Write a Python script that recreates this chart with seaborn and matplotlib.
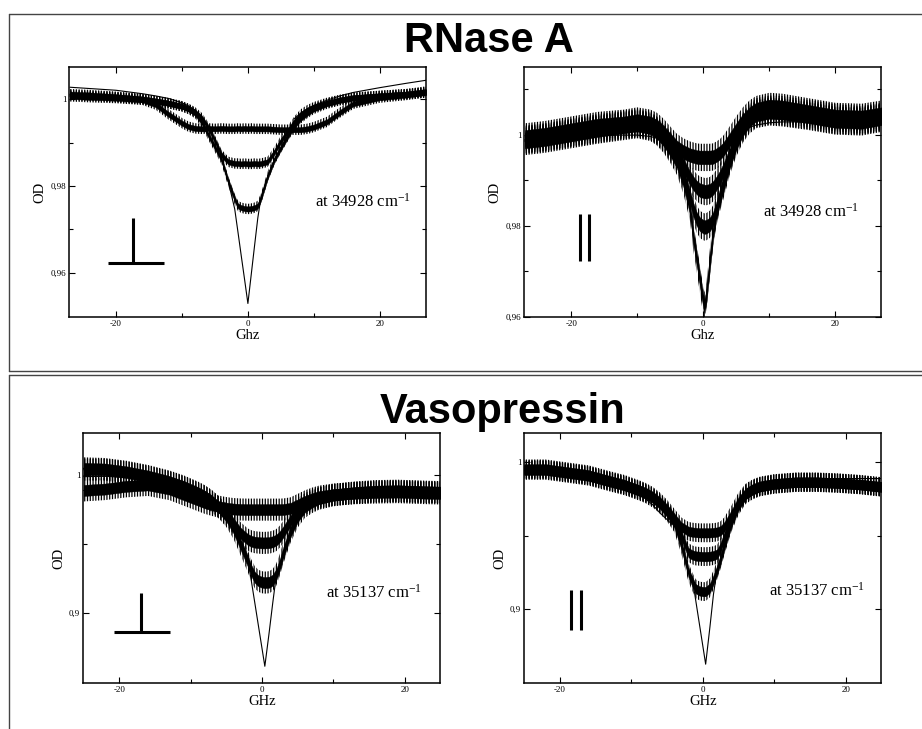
import matplotlib
matplotlib.use("Agg")
import numpy as np
import pandas as pd
import matplotlib.pyplot as plt
from matplotlib.lines import Line2D
from matplotlib.ticker import FixedLocator, FuncFormatter
import seaborn as sns

# ---------------------------------------------------------------- data
# RNase A, perpendicular polarisation (OD vs detuning in GHz)
TL_GHZ = [-27, -24, -20, -16, -14, -12, -10, -9, -8, -7, -6, -5, -4, -3, -2, -1.5, -1,
          -0.5, 0, 0.5, 1, 1.5, 2, 3, 4, 5, 6, 7, 8, 9, 10, 12, 14, 16, 20, 24, 27]
TL_OD_A = [1.0007, 1.0005, 1.0003, 0.9999, 0.9988, 0.9965, 0.9945, 0.9937, 0.9933, 0.9932,
           0.9933, 0.9932, 0.9933, 0.9932, 0.9932, 0.9933, 0.9932, 0.9933, 0.9932, 0.9933,
           0.9932, 0.9932, 0.9932, 0.9932, 0.9931, 0.9930, 0.9930, 0.9930, 0.9930, 0.9932,
           0.9936, 0.9948, 0.9970, 0.9990, 1.0004, 1.0010, 1.0016]
TL_OD_B = [1.0012, 1.0010, 1.0006, 1.0001, 0.9996, 0.9991, 0.9984, 0.9978, 0.9970, 0.9957,
           0.9935, 0.9905, 0.9872, 0.9856, 0.9852, 0.9852, 0.9851, 0.9852, 0.9851, 0.9851,
           0.9852, 0.9851, 0.9852, 0.9856, 0.9878, 0.9904, 0.9925, 0.9948, 0.9965, 0.9975,
           0.9982, 0.9992, 0.9999, 1.0004, 1.0008, 1.0012, 1.0018]
TL_OD_C = [1.0010, 1.0008, 1.0005, 1.0000, 0.9996, 0.9991, 0.9984, 0.9978, 0.9968, 0.9948,
           0.9918, 0.9890, 0.9862, 0.9812, 0.9770, 0.9754, 0.9750, 0.9748, 0.9747, 0.9748,
           0.9750, 0.9754, 0.9772, 0.9822, 0.9860, 0.9888, 0.9914, 0.9938, 0.9956, 0.9968,
           0.9978, 0.9990, 0.9998, 1.0003, 1.0008, 1.0012, 1.0016]
TL_OD_D = [1.0010, 1.0008, 1.0005, 1.0000, 0.9996, 0.9991, 0.9984, 0.9978, 0.9968, 0.9948,
           0.9918, 0.9890, 0.9862, 0.9812, 0.9747, 0.9693, 0.9638, 0.9584, 0.9529, 0.9595,
           0.9661, 0.9726, 0.9775, 0.9822, 0.9860, 0.9888, 0.9914, 0.9938, 0.9956, 0.9968,
           0.9978, 0.9990, 0.9998, 1.0003, 1.0008, 1.0012, 1.0016]
TL_FIT_L_GHZ = [-27, -24, -20, -16, -14, -12, -10, -9, -8, -7, -6.5]
TL_FIT_L_OD = [1.0028, 1.0025, 1.0021, 1.0013, 1.0008, 1.0002, 0.9992, 0.9985, 0.9975, 0.9960, 0.9945]
TL_FIT_R_GHZ = [7, 8, 9, 10, 12, 14, 16, 20, 24, 27]
TL_FIT_R_OD = [0.9955, 0.9968, 0.9978, 0.9986, 0.9998, 1.0008, 1.0016, 1.0027, 1.0037, 1.0044]
TL_NOISE = 0.0006

# RNase A, parallel polarisation
TR_GHZ = [-27, -24, -20, -16, -12, -10, -8, -7, -6, -5, -4, -3, -2, -1.5, -1, -0.5, 0, 0.2,
          0.5, 1, 1.5, 2, 2.5, 3, 4, 5, 6, 7, 8, 10, 12, 16, 20, 24, 27]
TR_OD_A = [0.9995, 1.0000, 1.0010, 1.0020, 1.0025, 1.0030, 1.0025, 1.0018, 1.0005, 0.9988,
           0.9972, 0.9962, 0.9955, 0.9953, 0.9951, 0.9950, 0.9950, 0.9950, 0.9950, 0.9950,
           0.9951, 0.9955, 0.9960, 0.9967, 0.9988, 1.0010, 1.0030, 1.0045, 1.0055, 1.0062,
           1.0060, 1.0050, 1.0040, 1.0038, 1.0045]
TR_OD_B = [0.9990, 0.9995, 1.0005, 1.0015, 1.0022, 1.0026, 1.0020, 1.0010, 0.9995, 0.9978,
           0.9958, 0.9932, 0.9905, 0.9893, 0.9884, 0.9878, 0.9876, 0.9875, 0.9875, 0.9877,
           0.9883, 0.9893, 0.9905, 0.9920, 0.9955, 0.9990, 1.0018, 1.0038, 1.0050, 1.0056,
           1.0055, 1.0046, 1.0037, 1.0033, 1.0040]
TR_OD_C = [0.9988, 0.9993, 1.0003, 1.0012, 1.0020, 1.0024, 1.0018, 1.0008, 0.9992, 0.9972,
           0.9948, 0.9912, 0.9862, 0.9835, 0.9815, 0.9803, 0.9798, 0.9797, 0.9798, 0.9803,
           0.9815, 0.9838, 0.9865, 0.9893, 0.9945, 0.9985, 1.0015, 1.0035, 1.0046, 1.0052,
           1.0050, 1.0042, 1.0032, 1.0030, 1.0038]
TR_OD_D = [0.9985, 0.9990, 1.0000, 1.0010, 1.0018, 1.0022, 1.0016, 1.0006, 0.9990, 0.9968,
           0.9942, 0.9900, 0.9840, 0.9775, 0.9730, 0.9682, 0.9635, 0.9623, 0.9648, 0.9718,
           0.9785, 0.9830, 0.9860, 0.9885, 0.9940, 0.9982, 1.0012, 1.0032, 1.0044, 1.0050,
           1.0048, 1.0040, 1.0030, 1.0028, 1.0036]
TR_FIT_L_GHZ = [-27, -24, -20, -16, -12, -10, -8, -7, -6, -5]
TR_FIT_L_OD = [0.9988, 0.9991, 0.9995, 0.9998, 0.9999, 0.9999, 0.9996, 0.9992, 0.9985, 0.9975]
TR_FIT_R_GHZ = [5, 6, 7, 8, 10, 12, 16, 20, 24, 27]
TR_FIT_R_OD = [0.9995, 1.0008, 1.0016, 1.0021, 1.0026, 1.0028, 1.0028, 1.0026, 1.0025, 1.0026]
TR_NOISE = 0.0015

# Vasopressin, perpendicular polarisation
BL_GHZ = [-25, -22, -19, -16, -13, -11, -9, -8, -7, -6, -5, -4, -3, -2, -1.5, -1, -0.5, 0,
          0.4, 1, 1.5, 2, 2.5, 3, 4, 5, 6, 7, 8, 10, 13, 16, 19, 22, 25]
BL_OD_A = [0.9890, 0.9900, 0.9920, 0.9930, 0.9900, 0.9860, 0.9820, 0.9800, 0.9785, 0.9772,
           0.9762, 0.9755, 0.9752, 0.9751, 0.9751, 0.9751, 0.9751, 0.9751, 0.9751, 0.9751,
           0.9751, 0.9751, 0.9751, 0.9752, 0.9760, 0.9785, 0.9810, 0.9830, 0.9845, 0.9860,
           0.9870, 0.9875, 0.9878, 0.9872, 0.9868]
BL_OD_B = [1.0040, 1.0040, 1.0020, 0.9990, 0.9950, 0.9915, 0.9870, 0.9845, 0.9810, 0.9765,
           0.9715, 0.9650, 0.9580, 0.9535, 0.9522, 0.9515, 0.9512, 0.9510, 0.9510, 0.9512,
           0.9518, 0.9530, 0.9555, 0.9590, 0.9670, 0.9755, 0.9790, 0.9815, 0.9835, 0.9858,
           0.9875, 0.9885, 0.9888, 0.9882, 0.9878]
BL_OD_C = [1.0050, 1.0045, 1.0025, 0.9995, 0.9955, 0.9920, 0.9875, 0.9848, 0.9812, 0.9765,
           0.9705, 0.9620, 0.9500, 0.9380, 0.9310, 0.9260, 0.9235, 0.9225, 0.9222, 0.9225,
           0.9240, 0.9280, 0.9350, 0.9440, 0.9590, 0.9700, 0.9770, 0.9805, 0.9830, 0.9855,
           0.9872, 0.9882, 0.9885, 0.9880, 0.9875]
BL_OD_D = [1.0050, 1.0045, 1.0025, 0.9995, 0.9955, 0.9920, 0.9875, 0.9848, 0.9812, 0.9765,
           0.9705, 0.9620, 0.9500, 0.9400, 0.9237, 0.9074, 0.8910, 0.8747, 0.8616, 0.8858,
           0.9071, 0.9272, 0.9350, 0.9440, 0.9590, 0.9700, 0.9770, 0.9805, 0.9830, 0.9855,
           0.9872, 0.9882, 0.9885, 0.9880, 0.9875]
BL_FIT_L_GHZ = [-25, -22, -19, -16]
BL_FIT_L_OD = [0.9990, 0.9992, 0.9985, 0.9968]
BL_FIT_R_GHZ = [8, 10, 13, 16, 19, 22, 25]
BL_FIT_R_OD = [0.9840, 0.9855, 0.9866, 0.9870, 0.9872, 0.9872, 0.9870]
BL_NOISE = 0.0040

# Vasopressin, parallel polarisation
BR_GHZ = [-25, -22, -19, -16, -13, -11, -9, -8, -7, -6, -5, -4, -3, -2, -1.5, -1, -0.5, 0,
          0.4, 1, 1.5, 2, 2.5, 3, 4, 5, 6, 7, 8, 10, 13, 16, 19, 22, 25]
BR_OD_A = [0.9955, 0.9955, 0.9935, 0.9915, 0.9875, 0.9850, 0.9815, 0.9795, 0.9768, 0.9730,
           0.9680, 0.9620, 0.9560, 0.9530, 0.9525, 0.9522, 0.9520, 0.9520, 0.9520, 0.9520,
           0.9522, 0.9525, 0.9535, 0.9560, 0.9640, 0.9730, 0.9790, 0.9820, 0.9838, 0.9855,
           0.9866, 0.9866, 0.9860, 0.9850, 0.9835]
BR_OD_B = [0.9950, 0.9950, 0.9930, 0.9910, 0.9870, 0.9845, 0.9810, 0.9790, 0.9762, 0.9722,
           0.9670, 0.9600, 0.9500, 0.9385, 0.9370, 0.9362, 0.9360, 0.9358, 0.9358, 0.9360,
           0.9365, 0.9375, 0.9420, 0.9490, 0.9610, 0.9715, 0.9785, 0.9815, 0.9835, 0.9852,
           0.9864, 0.9864, 0.9858, 0.9848, 0.9832]
BR_OD_C = [0.9945, 0.9945, 0.9925, 0.9905, 0.9865, 0.9840, 0.9805, 0.9785, 0.9755, 0.9715,
           0.9660, 0.9590, 0.9440, 0.9250, 0.9190, 0.9140, 0.9125, 0.9120, 0.9120, 0.9145,
           0.9200, 0.9265, 0.9340, 0.9430, 0.9590, 0.9705, 0.9780, 0.9812, 0.9832, 0.9850,
           0.9862, 0.9862, 0.9856, 0.9846, 0.9830]
BR_OD_D = [0.9945, 0.9945, 0.9925, 0.9905, 0.9865, 0.9840, 0.9805, 0.9785, 0.9755, 0.9715,
           0.9660, 0.9590, 0.9440, 0.9250, 0.9220, 0.9063, 0.8907, 0.8751, 0.8626, 0.8880,
           0.9104, 0.9265, 0.9340, 0.9430, 0.9590, 0.9705, 0.9780, 0.9812, 0.9832, 0.9850,
           0.9862, 0.9862, 0.9856, 0.9846, 0.9830]
BR_FIT_L_GHZ = [-13, -11, -9, -7, -6, -5, -4.3]
BR_FIT_L_OD = [0.9870, 0.9840, 0.9790, 0.9710, 0.9655, 0.9610, 0.9576]
BR_FIT_R_GHZ = [6, 8, 10, 13, 16, 19, 22, 25]
BR_FIT_R_OD = [0.9800, 0.9845, 0.9866, 0.9880, 0.9886, 0.9889, 0.9889, 0.9889]
BR_NOISE = 0.0032

# ---------------------------------------------------------------- style
sns.set_theme(style="ticks")
plt.rcParams.update({
    "font.family": ["Liberation Serif", "DejaVu Serif"],
    "mathtext.fontset": "custom",
    "mathtext.rm": "Liberation Serif",
    "mathtext.it": "Liberation Serif:italic",
    "mathtext.bf": "Liberation Serif:bold",
    "axes.edgecolor": "black",
    "axes.linewidth": 1.1,
    "xtick.color": "black",
    "ytick.color": "black",
    "text.color": "black",
    "axes.labelcolor": "black",
    "axes.facecolor": "white",
    "figure.facecolor": "white",
    "hatch.color": "black",
    "hatch.linewidth": 0.9,
})

W, H = 922, 729
fig = plt.figure(figsize=(W / 100, H / 100), dpi=100)


def px_axes(left, top, right, bottom):
    return fig.add_axes([left / W, 1 - bottom / H, (right - left) / W, (bottom - top) / H])


def comma(v, _pos):
    return f"{v:g}".replace(".", ",")


def style_axes(ax, xlim, ylim, ymajor, yminor, xlabel):
    ax.set_xlim(*xlim)
    ax.set_ylim(*ylim)
    ax.xaxis.set_major_locator(FixedLocator([-20, 0, 20]))
    ax.xaxis.set_minor_locator(FixedLocator([-10, 10]))
    ax.yaxis.set_major_locator(FixedLocator(ymajor))
    ax.yaxis.set_minor_locator(FixedLocator(yminor))
    ax.xaxis.set_major_formatter(FuncFormatter(comma))
    ax.yaxis.set_major_formatter(FuncFormatter(comma))
    ax.tick_params(which="both", direction="in", top=True, right=True,
                   width=0.8, labelsize=6.5, pad=2.2)
    ax.tick_params(which="major", length=4.5)
    ax.tick_params(which="minor", length=2.6)
    ax.set_xlabel(xlabel, fontsize=10.5, labelpad=1)
    ax.set_ylabel("OD", fontsize=10.5, labelpad=3)
    for s in ax.spines.values():
        s.set_linewidth(1.1)


def draw_panel(ax, ghz, traces, noise, noisy, fits):
    x = np.asarray(ghz, dtype=float)
    for od, is_noisy in zip(traces, noisy):
        if not is_noisy:
            continue
        y = np.asarray(od, dtype=float)
        # spike envelope of the measured trace (striped) around a solid core
        ax.fill_between(x, y - 2.0 * noise, y + 2.0 * noise, facecolor="none",
                        edgecolor="black", hatch="||||||", lw=0)
        ax.fill_between(x, y - noise, y + noise, color="black", lw=0.3)
    for od in traces:
        df = pd.DataFrame({"GHz": ghz, "OD": od})
        sns.lineplot(data=df, x="GHz", y="OD", ax=ax, color="black", lw=0.8,
                     estimator=None, sort=False)
    for fx, fy in fits:
        df = pd.DataFrame({"GHz": fx, "OD": fy})
        sns.lineplot(data=df, x="GHz", y="OD", ax=ax, color="black", lw=0.8,
                     estimator=None, sort=False)


def perp_symbol(ax, x0, x1, xc, ybase, ytop):
    ax.plot([x0, x1], [ybase, ybase], color="black", lw=2.2, solid_capstyle="butt")
    ax.plot([xc, xc], [ybase, ytop], color="black", lw=2.2, solid_capstyle="butt")


def par_symbol(ax, xa, xb, y0, y1):
    for xv in (xa, xb):
        ax.plot([xv, xv], [y0, y1], color="black", lw=2.2, solid_capstyle="butt")


# ---------------------------------------------------------------- panels
ax_tl = px_axes(69.3, 67.3, 426.3, 316.7)
draw_panel(ax_tl, TL_GHZ, [TL_OD_A, TL_OD_B, TL_OD_C, TL_OD_D], TL_NOISE,
           [True, True, True, False],
           [(TL_FIT_L_GHZ, TL_FIT_L_OD), (TL_FIT_R_GHZ, TL_FIT_R_OD)])
style_axes(ax_tl, (-27.1, 27.07), (0.94985, 1.0074), [0.96, 0.98, 1.0],
           [0.97, 0.99], "Ghz")
perp_symbol(ax_tl, -21.3, -12.7, -17.4, 0.9623, 0.9726)
ax_tl.text(10.2, 0.9752, r"at 34928 cm$^{-1}$", fontsize=12, va="baseline")

ax_tr = px_axes(524.3, 67.3, 881.3, 316.7)
draw_panel(ax_tr, TR_GHZ, [TR_OD_A, TR_OD_B, TR_OD_C, TR_OD_D], TR_NOISE,
           [True, True, True, True],
           [(TR_FIT_L_GHZ, TR_FIT_L_OD), (TR_FIT_R_GHZ, TR_FIT_R_OD)])
style_axes(ax_tr, (-27.1, 26.97), (0.96, 1.0148), [0.96, 0.98, 1.0],
           [0.97, 0.99, 1.01], "Ghz")
par_symbol(ax_tr, -18.6, -17.3, 0.9722, 0.9826)
ax_tr.text(9.0, 0.9820, r"at 34928 cm$^{-1}$", fontsize=12, va="baseline")

ax_bl = px_axes(83.3, 433.3, 440.3, 682.7)
draw_panel(ax_bl, BL_GHZ, [BL_OD_A, BL_OD_B, BL_OD_C, BL_OD_D], BL_NOISE,
           [True, True, True, False],
           [(BL_FIT_L_GHZ, BL_FIT_L_OD), (BL_FIT_R_GHZ, BL_FIT_R_OD)])
style_axes(ax_bl, (-25.05, 25.0), (0.8497, 1.0304), [0.9, 1.0], [0.95], "GHz")
perp_symbol(ax_bl, -20.76, -12.86, -16.9, 0.8862, 0.9147)
ax_bl.text(9.0, 0.9111, r"at 35137 cm$^{-1}$", fontsize=12, va="baseline")

ax_br = px_axes(524.3, 433.3, 881.3, 682.7)
draw_panel(ax_br, BR_GHZ, [BR_OD_A, BR_OD_B, BR_OD_C, BR_OD_D], BR_NOISE,
           [True, True, True, False],
           [(BR_FIT_L_GHZ, BR_FIT_L_OD), (BR_FIT_R_GHZ, BR_FIT_R_OD)])
style_axes(ax_br, (-25.0, 25.0), (0.85, 1.0197), [0.9, 1.0], [0.95], "GHz")
par_symbol(ax_br, -18.4, -17.1, 0.8861, 0.9131)
ax_br.text(9.33, 0.9095, r"at 35137 cm$^{-1}$", fontsize=12, va="baseline")

# ---------------------------------------------------------------- frames and titles
def frame_line(x0, y0, x1, y1):
    fig.add_artist(Line2D([x0 / W, x1 / W], [1 - y0 / H, 1 - y1 / H],
                          transform=fig.transFigure, color="#444444", lw=1.0))


frame_line(9, 13.5, W, 13.5)
frame_line(9, 13.5, 9, 371)
frame_line(9, 371, W, 371)
frame_line(9, 375, W, 375)
frame_line(9, 375, 9, H)

fig.text(489 / W, 1 - 51.7 / H, "RNase A", ha="center", va="baseline",
         fontsize=30, fontweight="bold", family="Liberation Sans")
fig.text(503 / W, 1 - 423 / H, "Vasopressin", ha="center", va="baseline",
         fontsize=30, fontweight="bold", family="Liberation Sans")

fig.savefig("out.png", dpi=100)
